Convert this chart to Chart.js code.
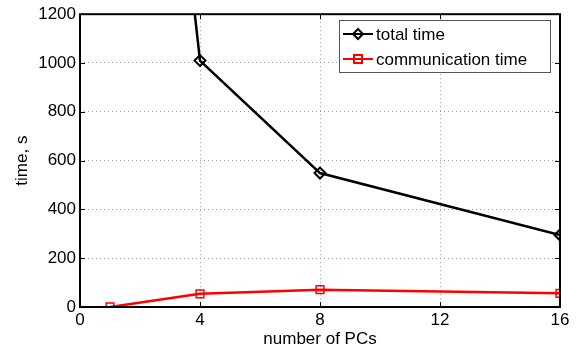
<!DOCTYPE html>
<html><head><meta charset="utf-8">
<script src="https://cdn.jsdelivr.net/npm/chart.js@4"></script>
<style>html,body{margin:0;padding:0;background:#fff}#wrap{width:578px;height:350px}</style>
</head><body><div id="wrap"><canvas id="c" width="578" height="350"></canvas></div>
<script>
const pcs = [1, 4, 8, 16];
const totalTime = [4300, 1010, 549, 295];
const commTime = [0, 54, 71, 56];
const xTicks = [0, 4, 8, 12, 16];
const yTicks = [0, 200, 400, 600, 800, 1000, 1200];
const seriesNames = ['total time', 'communication time'];

const FONT = 'Liberation Sans, Arial, sans-serif';
const FS = 17;

const frame = {
  id: 'frame',
  afterDraw(chart) {
    const {ctx, chartArea: a, scales: {x, y}} = chart;
    ctx.save();
    ctx.strokeStyle = '#000';
    ctx.lineWidth = 1;
    ctx.beginPath();
    xTicks.forEach(v => {
      const px = Math.round(x.getPixelForValue(v)) + 0.5;
      ctx.moveTo(px, a.bottom); ctx.lineTo(px, a.bottom - 5);
      ctx.moveTo(px, a.top); ctx.lineTo(px, a.top + 5);
    });
    yTicks.forEach(v => {
      const py = Math.round(y.getPixelForValue(v)) + 0.5;
      ctx.moveTo(a.left, py); ctx.lineTo(a.left + 5, py);
      ctx.moveTo(a.right, py); ctx.lineTo(a.right - 5, py);
    });
    ctx.stroke();
    ctx.lineWidth = 2;
    ctx.strokeRect(a.left, a.top, a.right - a.left, a.bottom - a.top);
    // legend
    const bx = 339, by = 20, bw = 211, bh = 52;
    ctx.fillStyle = '#fff';
    ctx.fillRect(bx, by, bw, bh);
    ctx.lineWidth = 1;
    ctx.strokeStyle = '#555';
    ctx.strokeRect(bx + 0.5, by + 0.5, bw, bh);
    chart.data.datasets.forEach((ds, i) => {
      const cy = by + 14 + i * 25;
      ctx.strokeStyle = ds.borderColor;
      ctx.lineWidth = 2;
      ctx.beginPath(); ctx.moveTo(bx + 4, cy); ctx.lineTo(bx + 34, cy); ctx.stroke();
      ctx.beginPath();
      const mx = bx + 19;
      if (i === 0) {
        ctx.moveTo(mx, cy - 5); ctx.lineTo(mx + 5, cy); ctx.lineTo(mx, cy + 5); ctx.lineTo(mx - 5, cy); ctx.closePath();
      } else {
        ctx.rect(mx - 4, cy - 4, 8, 8);
      }
      ctx.stroke();
      ctx.fillStyle = '#000';
      ctx.font = FS + 'px ' + FONT;
      ctx.textBaseline = 'middle';
      ctx.textAlign = 'left';
      ctx.fillText(ds.label, bx + 37, cy + 1);
    });
    ctx.restore();
  }
};

new Chart(document.getElementById('c'), {
  type: 'line',
  data: {
    datasets: [
      { label: seriesNames[0], data: pcs.map((p, i) => ({x: p, y: totalTime[i]})),
        borderColor: '#000', backgroundColor: 'rgba(0,0,0,0)', borderWidth: 2.5,
        pointStyle: 'rectRot', pointRadius: 5.5, pointBorderWidth: 2, pointBackgroundColor: 'rgba(0,0,0,0)' },
      { label: seriesNames[1], data: pcs.map((p, i) => ({x: p, y: commTime[i]})),
        borderColor: '#ff0000', backgroundColor: 'rgba(0,0,0,0)', borderWidth: 2.5,
        pointStyle: 'rect', pointRadius: 5.5, pointBorderWidth: 1.5, pointBackgroundColor: 'rgba(0,0,0,0)' }
    ]
  },
  options: {
    animation: false, responsive: false, devicePixelRatio: 1,
    layout: { padding: { top: 14, right: 18, left: 0, bottom: 0 } },
    plugins: { legend: { display: false }, tooltip: { enabled: false } },
    scales: {
      x: {
        type: 'linear', min: 0, max: 16,
        afterBuildTicks: s => { s.ticks = xTicks.map(v => ({value: v})); },
        afterFit: s => { s.height = 43; },
        grid: { color: '#999', lineWidth: 1, drawTicks: false },
        border: { display: false, dash: [1, 3] },
        ticks: { color: '#000', font: { family: FONT, size: FS }, padding: 3, maxRotation: 0, callback: v => String(v) },
        title: { display: true, text: 'number of PCs', color: '#000', font: { family: FONT, size: FS }, padding: { top: 0, bottom: 0 } }
      },
      y: {
        type: 'linear', min: 0, max: 1200,
        afterBuildTicks: s => { s.ticks = yTicks.map(v => ({value: v})); },
        afterFit: s => { s.width = 80; },
        grid: { color: '#999', lineWidth: 1, drawTicks: false },
        border: { display: false, dash: [1, 3] },
        ticks: { color: '#000', font: { family: FONT, size: FS }, padding: 4, callback: v => String(v) },
        title: { display: true, text: 'time, s', color: '#000', font: { family: FONT, size: FS }, padding: { top: 12, bottom: 0 } }
      }
    }
  },
  plugins: [frame]
});
</script>
</body></html>
